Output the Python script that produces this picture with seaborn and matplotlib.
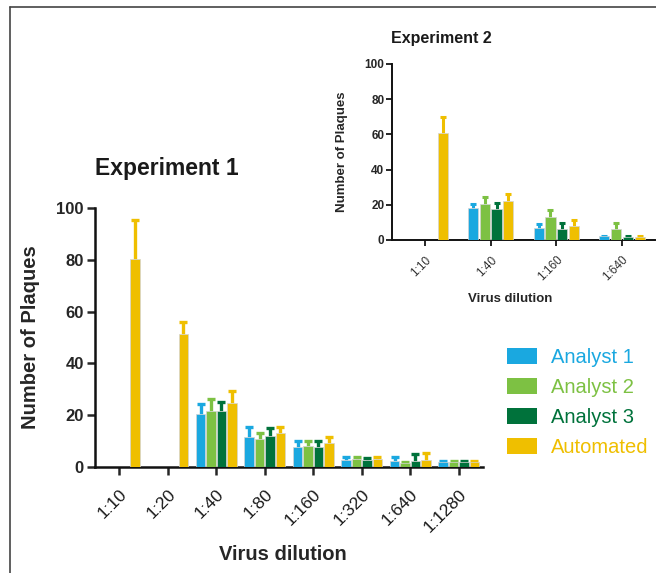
import matplotlib
matplotlib.use("Agg")
import matplotlib.pyplot as plt
from matplotlib.patches import Patch
from matplotlib.lines import Line2D
import numpy as np
import pandas as pd
import seaborn as sns

# ---- data ----------------------------------------------------------------
methods = ["Analyst 1", "Analyst 2", "Analyst 3", "Automated"]
colors = ["#1AA8E0", "#7DC143", "#00723B", "#EFBF00"]

exp1_dilutions = ["1:10", "1:20", "1:40", "1:80", "1:160", "1:320", "1:640", "1:1280"]
exp1_analyst1 = [0, 0, 20.3, 11.4, 7.7, 2.8, 2.2, 1.8]
exp1_analyst2 = [0, 0, 21.6, 11.0, 8.0, 3.0, 1.5, 1.8]
exp1_analyst3 = [0, 0, 21.5, 12.0, 7.7, 2.8, 2.5, 1.8]
exp1_automated = [80.5, 51.3, 24.9, 13.1, 9.2, 3.0, 2.8, 2.0]
exp1_err_analyst1 = [0, 0, 4.2, 4.2, 2.4, 1.0, 1.8, 0.5]
exp1_err_analyst2 = [0, 0, 4.5, 2.3, 2.1, 0.8, 0.5, 0.5]
exp1_err_analyst3 = [0, 0, 3.6, 3.2, 2.4, 0.8, 2.6, 0.5]
exp1_err_automated = [15.0, 4.5, 4.3, 2.2, 2.2, 0.8, 2.7, 0.5]

exp2_dilutions = ["1:10", "1:40", "1:160", "1:640"]
exp2_analyst1 = [0, 18.4, 6.6, 2.2]
exp2_analyst2 = [0, 20.3, 12.9, 6.4]
exp2_analyst3 = [0, 17.5, 6.3, 1.9]
exp2_automated = [60.7, 22.2, 8.0, 1.9]
exp2_err_analyst1 = [0, 1.9, 2.3, 0.3]
exp2_err_analyst2 = [0, 4.4, 4.1, 3.0]
exp2_err_analyst3 = [0, 3.8, 3.2, 0.5]
exp2_err_automated = [9.1, 3.8, 3.4, 0.5]


def long_table(dilutions, values, errors):
    rows = []
    for m, vals, errs in zip(methods, values, errors):
        for d, v, e in zip(dilutions, vals, errs):
            rows.append({"dilution": d, "method": m, "plaques": v, "err": e})
    return pd.DataFrame(rows)


df1 = long_table(exp1_dilutions,
                 [exp1_analyst1, exp1_analyst2, exp1_analyst3, exp1_automated],
                 [exp1_err_analyst1, exp1_err_analyst2, exp1_err_analyst3, exp1_err_automated])
df2 = long_table(exp2_dilutions,
                 [exp2_analyst1, exp2_analyst2, exp2_analyst3, exp2_automated],
                 [exp2_err_analyst1, exp2_err_analyst2, exp2_err_analyst3, exp2_err_automated])

# ---- style ---------------------------------------------------------------
sns.set_style("ticks")
plt.rcParams["font.family"] = ["Liberation Sans", "DejaVu Sans"]

fig = plt.figure(figsize=(6.56, 5.73), dpi=100)


def grouped_bars(ax, df, order, width, gap, lw, capsize, spine_w):
    sns.barplot(data=df, x="dilution", y="plaques", hue="method",
                order=order, hue_order=methods, palette=colors, saturation=1,
                errorbar=None, width=width, gap=gap, ax=ax, legend=False,
                edgecolor="#d4d4d4", linewidth=0.5, zorder=3)
    # upper-only error bars, drawn in the bar colour
    for m, col, container in zip(methods, colors, ax.containers):
        sub = df[df.method == m].set_index("dilution").loc[order]
        for bar, err in zip(container, sub["err"].values):
            h = bar.get_height()
            if h <= 0:
                bar.set_linewidth(0)
                continue
            x = bar.get_x() + bar.get_width() / 2
            _, caps, _ = ax.errorbar(x, h, yerr=[[0], [err]], fmt="none",
                                     ecolor=col, elinewidth=lw,
                                     capsize=capsize, capthick=lw, zorder=2)
            caps[0].set_visible(False)  # no cap at the bar top
    ax.set_ylim(0, 100)
    ax.set_yticks([0, 20, 40, 60, 80, 100])
    ax.set_xlim(-0.5, len(order) - 0.5)
    for s in ("top", "right"):
        ax.spines[s].set_visible(False)
    for s in ("left", "bottom"):
        ax.spines[s].set_linewidth(spine_w)
        ax.spines[s].set_color("#111111")


# ---- Experiment 1 (main panel) -------------------------------------------
ax1 = fig.add_axes([95 / 656, 1 - 467 / 573, 388 / 656, 259 / 573])
grouped_bars(ax1, df1, exp1_dilutions, width=0.86, gap=0.08, lw=2.4,
             capsize=2.6, spine_w=1.8)
ax1.tick_params(axis="y", labelsize=12, length=6, width=1.8, pad=2)
ax1.tick_params(axis="x", labelsize=12.5, length=6, width=1.8, pad=8,
                labelcolor="#1a1a1a")
for t in ax1.get_yticklabels():
    t.set_fontweight("bold")
plt.setp(ax1.get_xticklabels(), rotation=45, ha="right", rotation_mode="anchor")
ax1.set_xlabel("Virus dilution", fontsize=14.5, fontweight="bold")
ax1.set_ylabel("Number of Plaques", fontsize=14.5, fontweight="bold")
ax1.xaxis.set_label_coords(0.485, -0.30)
ax1.yaxis.set_label_coords(-0.142, 0.5)
fig.text(167 / 656, 1 - 168 / 573, "Experiment 1", fontsize=16.5,
         fontweight="bold", ha="center", va="center", color="#1a1a1a")

# ---- Experiment 2 (inset) ------------------------------------------------
ax2 = fig.add_axes([392 / 656, 1 - 240 / 573, 263 / 656, 176 / 573])
grouped_bars(ax2, df2, exp2_dilutions, width=0.72, gap=0.14, lw=2.2,
             capsize=2.4, spine_w=1.4)
ax2.tick_params(axis="y", labelsize=8.5, length=4, width=1.4, pad=1.5)
ax2.tick_params(axis="x", labelsize=8.5, length=4, width=1.4, pad=6,
                labelcolor="#333333")
for t in ax2.get_yticklabels():
    t.set_fontweight("bold")
plt.setp(ax2.get_xticklabels(), rotation=45, ha="right", rotation_mode="anchor")
ax2.set_xlabel("Virus dilution", fontsize=9.5, fontweight="bold")
ax2.set_ylabel("Number of Plaques", fontsize=9.5, fontweight="bold")
ax2.xaxis.set_label_coords(0.449, -0.30)
ax2.yaxis.set_label_coords(-0.167, 0.5)
fig.text(441 / 656, 1 - 38 / 573, "Experiment 2", fontsize=11.5,
         fontweight="bold", ha="center", va="center", color="#1a1a1a")

# ---- legend --------------------------------------------------------------
handles = [Patch(facecolor=c, edgecolor="none") for c in colors]
fig.legend(handles, methods, loc="upper left",
           bbox_to_anchor=(507 / 656, 1 - 348 / 573), frameon=False,
           fontsize=14.5, labelcolor=colors, handlelength=1.5, handleheight=0.85,
           handletextpad=0.7, labelspacing=0.55, borderaxespad=0,
           borderpad=0)

# ---- page frame ----------------------------------------------------------
fig.add_artist(Line2D([10 / 656, 1], [1 - 7 / 573, 1 - 7 / 573],
                      transform=fig.transFigure, color="#444444", lw=1.2))
fig.add_artist(Line2D([10 / 656, 10 / 656], [0, 1 - 7 / 573],
                      transform=fig.transFigure, color="#444444", lw=1.2))

fig.savefig("out.png", dpi=100)
